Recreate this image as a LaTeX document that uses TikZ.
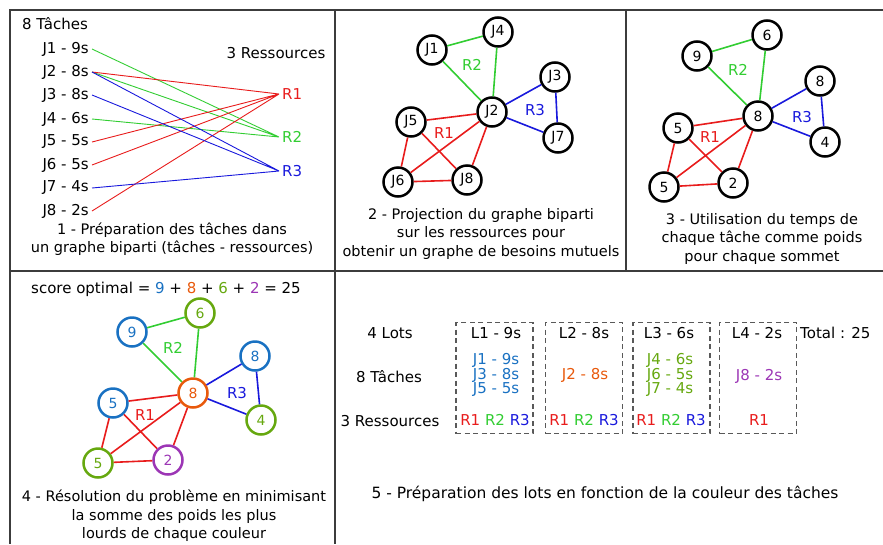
\documentclass[tikz,border=0pt]{standalone}
\usepackage{fontspec}
\setmainfont{DejaVu Sans}
\definecolor{rred}{RGB}{232,28,28}
\definecolor{rgreen}{RGB}{50,205,50}
\definecolor{rblue}{RGB}{25,25,220}
\definecolor{lblue}{RGB}{25,113,194}
\definecolor{lorange}{RGB}{232,89,12}
\definecolor{lgreen}{RGB}{102,168,15}
\definecolor{lpurple}{RGB}{156,54,181}
\definecolor{framegray}{RGB}{60,60,60}

\begin{document}
\begin{tikzpicture}[
        x=1pt, y=-1pt,
        every node/.style={font=\fontsize{15}{18.5}\selectfont, inner sep=2pt},
        panel/.style={draw=framegray, line width=1.2pt},
        task/.style={anchor=east, inner sep=3pt},
        res/.style={anchor=west, inner sep=3pt},
        bilink/.style={line width=0.9pt},
        vertex/.style={circle, draw, line width=2.5pt, minimum size=29pt, inner sep=0pt,
            font=\fontsize{14}{16}\selectfont},
        edgeline/.style={line width=1.6pt},
        caption/.style={align=center, font=\fontsize{14.5}{18.5}\selectfont},
        lotbox/.style={draw=black!65, dash pattern=on 5pt off 3.5pt, line width=1.1pt,
            minimum width=77pt, minimum height=111pt, anchor=north},
        tight/.style={align=center, font=\fontsize{15}{14.5}\selectfont}
    ]
    \useasboundingbox (0,0) rectangle (883,544);
    % frames
    \draw[panel] (883,10) -- (10,10) -- (10,544);
    \draw[panel] (10,271) -- (883,271);
    \draw[panel] (335,10) -- (335,544);
    \draw[panel] (626,10) -- (626,271);

    % 1 - bipartite graph
    \node[anchor=west] (ntasks) at (20,24) {8 Tâches};
    \node[task] (t1) at (92,49) {J1 - 9s};
    \node[task] (t2) at (92,72) {J2 - 8s};
    \node[task] (t3) at (92,95) {J3 - 8s};
    \node[task] (t4) at (92,119) {J4 - 6s};
    \node[task] (t5) at (92,142) {J5 - 5s};
    \node[task] (t6) at (92,165) {J6 - 5s};
    \node[task] (t7) at (92,188) {J7 - 4s};
    \node[task] (t8) at (92,211) {J8 - 2s};
    \node (nres) at (276,53) {3 Ressources};
    \node[res, text=rred] (r1) at (279,94) {R1};
    \node[res, text=rgreen] (r2) at (279,137) {R2};
    \node[res, text=rblue] (r3) at (279,171) {R3};
    \draw[bilink, rgreen] (t1.east) -- (r2.west) (t2.east) -- (r2.west) (t4.east) -- (r2.west);
    \draw[bilink, rred] (t2.east) -- (r1.west) (t5.east) -- (r1.west)
        (t6.east) -- (r1.west) (t8.east) -- (r1.west);
    \draw[bilink, rblue] (t2.east) -- (r3.west) (t3.east) -- (r3.west) (t7.east) -- (r3.west);
    \node[caption] (cap1) at (172,239) {1 - Préparation des tâches dans\\un graphe biparti (tâches - ressources)};

    % 2 - projection
    \node[vertex] (j1) at (432,50) {J1};
    \node[vertex] (j4) at (498,32) {J4};
    \node[vertex] (j3) at (555,77) {J3};
    \node[vertex] (j2) at (492,112) {J2};
    \node[vertex] (j5) at (411,122) {J5};
    \node[vertex] (j7) at (558,138) {J7};
    \node[vertex] (j6) at (398,182) {J6};
    \node[vertex] (j8) at (467,180) {J8};
    \draw[edgeline, rgreen] (j1) -- (j4) -- (j2) -- (j1);
    \draw[edgeline, rblue] (j2) -- (j3) -- (j7) -- (j2);
    \draw[edgeline, rred] (j5) -- (j2) (j6) -- (j2) (j8) -- (j2)
        (j5) -- (j6) -- (j8) -- (j5);
    \node[text=rgreen] (lr2a) at (472,65) {R2};
    \node[text=rblue] (lr3a) at (535,110) {R3};
    \node[text=rred] (lr1a) at (444,133) {R1};
    \node[caption] (cap2) at (481,233.5) {2 - Projection du graphe biparti\\sur les ressources pour\\obtenir un graphe de besoins mutuels};

    % 3 - weights
    \node[vertex] (a9) at (697,56) {9};
    \node[vertex] (a6) at (767,35) {6};
    \node[vertex] (a8r) at (820,81) {8};
    \node[vertex] (a8) at (758,116) {8};
    \node[vertex] (a5) at (678,128) {5};
    \node[vertex] (a4) at (825,142) {4};
    \node[vertex] (a5b) at (664,187) {5};
    \node[vertex] (a2) at (733,183) {2};
    \draw[edgeline, rgreen] (a9) -- (a6) -- (a8) -- (a9);
    \draw[edgeline, rblue] (a8) -- (a8r) -- (a4) -- (a8);
    \draw[edgeline, rred] (a5) -- (a8) (a5b) -- (a8) (a2) -- (a8)
        (a5) -- (a5b) -- (a2) -- (a5);
    \node[text=rgreen] (lr2b) at (738,70) {R2};
    \node[text=rblue] (lr3b) at (802,117) {R3};
    \node[text=rred] (lr1b) at (710,137) {R1};
    \node[caption] (cap3) at (762,238.5) {3 - Utilisation du temps de\\chaque tâche comme poids\\pour chaque sommet};

    % 4 - colouring
    \node (score) at (166,289) {score optimal = {\color{lblue}9} + {\color{lorange}8} + {\color{lgreen}6} + {\color{lpurple}2} = 25};
    \node[vertex, draw=lblue, text=lblue] (b9) at (132,332) {9};
    \node[vertex, draw=lgreen, text=lgreen] (b6) at (200,313) {6};
    \node[vertex, draw=lblue, text=lblue] (b8r) at (255,356) {8};
    \node[vertex, draw=lorange, text=lorange] (b8) at (193,393) {8};
    \node[vertex, draw=lblue, text=lblue] (b5) at (113,403) {5};
    \node[vertex, draw=lgreen, text=lgreen] (b4) at (261,420) {4};
    \node[vertex, draw=lgreen, text=lgreen] (b5b) at (98,463) {5};
    \node[vertex, draw=lpurple, text=lpurple] (b2) at (168,460) {2};
    \draw[edgeline, rgreen] (b9) -- (b6) -- (b8) -- (b9);
    \draw[edgeline, rblue] (b8) -- (b8r) -- (b4) -- (b8);
    \draw[edgeline, rred] (b5) -- (b8) (b5b) -- (b8) (b2) -- (b8)
        (b5) -- (b5b) -- (b2) -- (b5);
    \node[text=rgreen] (lr2c) at (173,348) {R2};
    \node[text=rblue] (lr3c) at (237,393) {R3};
    \node[text=rred] (lr1c) at (145,415) {R1};
    \node[caption] (cap4) at (174,516) {4 - Résolution du problème en minimisant\\la somme des poids les plus\\lourds de chaque couleur};

    % 5 - lots
    \node (nlots) at (390,333) {4 Lots};
    \node (ntasks5) at (389,377) {8 Tâches};
    \node (nres5) at (390,421) {3 Ressources};
    \node[lotbox] (lot1) at (494.5,322) {};
    \node[lotbox] (lot2) at (584,322) {};
    \node[lotbox] (lot3) at (671.5,322) {};
    \node[lotbox] (lot4) at (758,322) {};
    \node (h1) at (496,333) {L1 - 9s};
    \node (h2) at (584,333) {L2 - 8s};
    \node (h3) at (669,333) {L3 - 6s};
    \node (h4) at (757,333) {L4 - 2s};
    \node[anchor=west] (total) at (798,333) {Total : 25};
    \node[tight, text=lblue] (g1) at (496,375) {J1 - 9s\\J3 - 8s\\J5 - 5s};
    \node[tight, text=lorange] (g2) at (585,375) {J2 - 8s};
    \node[tight, text=lgreen] (g3) at (670,375) {J4 - 6s\\J6 - 5s\\J7 - 4s};
    \node[tight, text=lpurple] (g4) at (759,376) {J8 - 2s};
    \node (q1) at (495,420) {\color{rred}R1 \color{rgreen}R2 \color{rblue}R3};
    \node (q2) at (584,420) {\color{rred}R1 \color{rgreen}R2 \color{rblue}R3};
    \node (q3) at (671,420) {\color{rred}R1 \color{rgreen}R2 \color{rblue}R3};
    \node[text=rred] (q4) at (759,420) {R1};
    \node[caption, font=\fontsize{15.5}{18.5}\selectfont] (cap5) at (605,494) {5 - Préparation des lots en fonction de la couleur des tâches};
\end{tikzpicture}
\end{document}
